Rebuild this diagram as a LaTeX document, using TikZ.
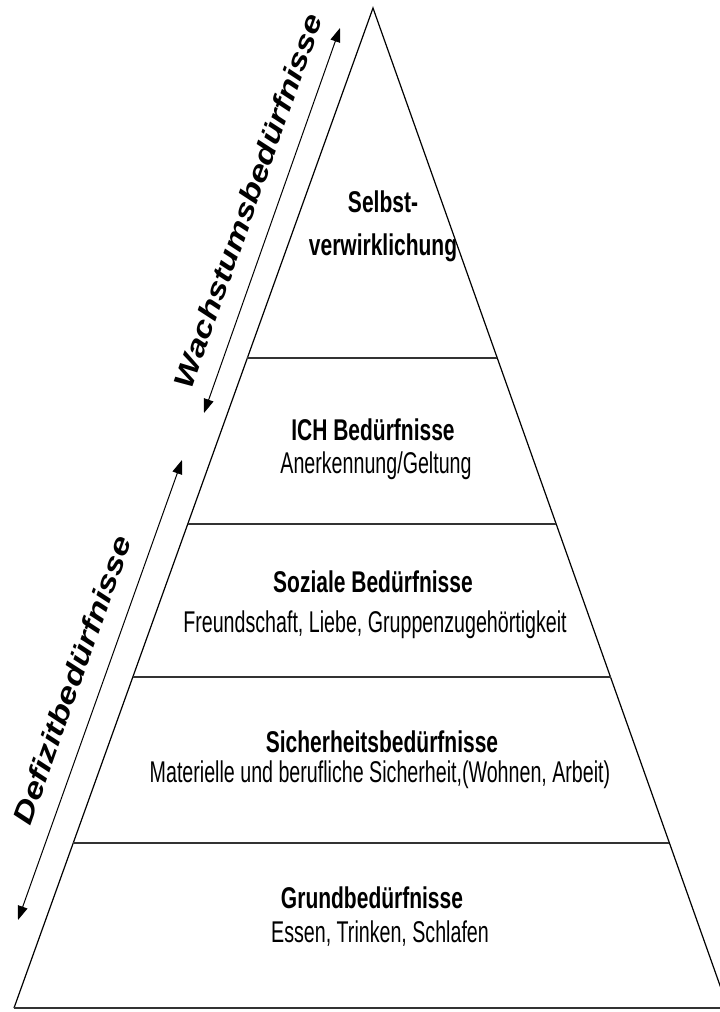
\documentclass[tikz,border=0pt]{standalone}
\usepackage{fontspec}
\setmainfont{Liberation Sans}[FakeStretch=0.655]
\newfontfamily\titlefont{Liberation Sans}[FakeStretch=0.70]
\newfontfamily\arrowfont{Liberation Sans}[FakeStretch=1.25]
\usetikzlibrary{arrows.meta,calc}

\tikzset{
  levelline/.style={draw=black!80, line width=2.5pt},
  leveltitle/.style={anchor=base, inner sep=0pt, font=\titlefont\fontsize{30}{43}\selectfont\bfseries},
  leveltext/.style={anchor=base, inner sep=0pt, font=\fontsize{30}{36}\selectfont},
  growlabel/.style={inner sep=0pt, rotate=70.5, font=\arrowfont\fontsize{28}{32}\selectfont\bfseries\itshape},
  needarrow/.style={{Triangle[length=14pt,width=10pt]}-{Triangle[length=14pt,width=10pt]}, line width=1pt},
}

\begin{document}
\begin{tikzpicture}[x=1pt, y=-1pt]
  \useasboundingbox (0,0) rectangle (720,1012);

  % pyramid
  \coordinate (apex) at (373,8);
  \coordinate (bl) at (14,1008);
  \coordinate (br) at (728,1008);
  \draw[line width=1.2pt] (bl) -- (apex) -- (br);
  \draw[levelline] (bl) -- (br);
  \draw[levelline] ($(apex)!0.350!(bl)$) -- ($(apex)!0.350!(br)$);
  \draw[levelline] ($(apex)!0.516!(bl)$) -- ($(apex)!0.516!(br)$);
  \draw[levelline] ($(apex)!0.669!(bl)$) -- ($(apex)!0.669!(br)$);
  \draw[levelline] ($(apex)!0.835!(bl)$) -- ($(apex)!0.835!(br)$);

  % levels
  \node[leveltitle, align=center] (selbst) at (383,255) {Selbst-\\verwirklichung};
  \node[leveltitle] (ich) at (373,440) {ICH Bedürfnisse};
  \node[leveltext] (ichsub) at (376,473) {Anerkennung/Geltung};
  \node[leveltitle] (sozial) at (373,592) {Soziale Bedürfnisse};
  \node[leveltext] (sozialsub) at (375,632) {Freundschaft, Liebe, Gruppenzugehörtigkeit};
  \node[leveltitle] (sicher) at (382,752) {Sicherheitsbedürfnisse};
  \node[leveltext] (sichersub) at (380,782) {Materielle und berufliche Sicherheit,(Wohnen, Arbeit)};
  \node[leveltitle] (grund) at (372,908) {Grundbedürfnisse};
  \node[leveltext] (grundsub) at (380,942) {Essen, Trinken, Schlafen};

  % needs ranges
  \coordinate (wtop) at (340,28);
  \coordinate (wbot) at (204,413);
  \coordinate (dtop) at (182,460);
  \coordinate (dbot) at (18,920);
  \draw[needarrow] (wbot) -- (wtop);
  \draw[needarrow] (dbot) -- (dtop);
  \node[growlabel] (wachstum) at (248,201) {Wachstumsbedürfnisse};
  \node[growlabel] (defizit) at (72,680) {Defizitbedürfnisse};
\end{tikzpicture}
\end{document}
